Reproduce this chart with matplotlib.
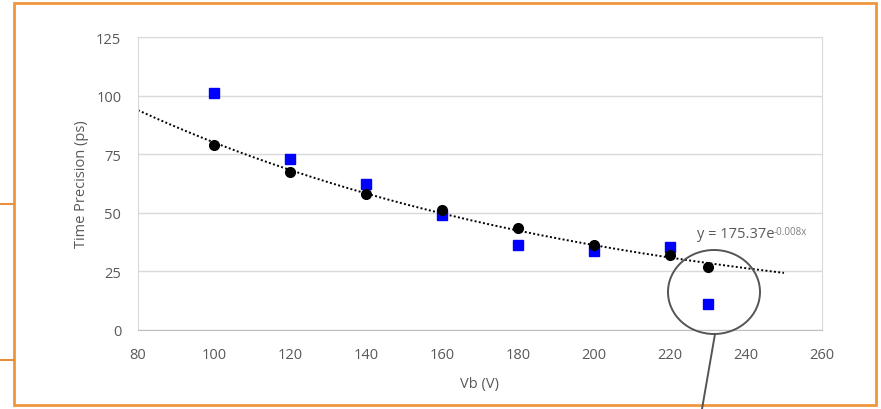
import numpy as np
import matplotlib.pyplot as plt
from matplotlib.patches import Ellipse, Rectangle
from matplotlib.lines import Line2D

plt.rcParams['font.family'] = ['Open Sans', 'DejaVu Sans']

# data
vb = [100, 120, 140, 160, 180, 200, 220, 230]
prec_black = [78.9, 67.4, 58.0, 51.2, 43.5, 36.3, 32.0, 26.9]
prec_blue = [101.1, 73.0, 62.3, 49.0, 36.3, 33.7, 35.4, 11.1]
fit_base = 'y = 175.37e'
fit_exp = '-0.008x'

fig = plt.figure(figsize=(8.81, 4.10), dpi=100)
ax = fig.add_axes([138 / 881, 1 - 331 / 410, 684 / 881, 293 / 410])

# exponential trend line fitted to the black points
b, a = np.polyfit(vb, np.log(prec_black), 1)
xs = np.linspace(80, 250, 200)
ax.plot(xs, np.exp(a) * np.exp(b * xs), color='black', ls=(0, (1, 1.2)), lw=1.4, zorder=2)

ax.plot(vb, prec_blue, 's', color='#0000ff', ms=7, zorder=3)
ax.plot(vb, prec_black, 'o', color='black', ms=7, zorder=4)

ax.set_xlim(80, 260)
ax.set_ylim(0, 125)
ax.set_xticks(np.arange(80, 261, 20))
ax.set_yticks(np.arange(0, 126, 25))
ax.grid(axis='y', color='#d9d9d9', lw=1)
ax.set_axisbelow(True)
for s in ax.spines.values():
    s.set_color('#d9d9d9')
ax.spines['bottom'].set_color('#bfbfbf')
ax.tick_params(length=0, labelsize=10.5, colors='#595959')
ax.tick_params(axis='x', pad=12)
ax.tick_params(axis='y', pad=12)
ax.set_xlabel('Vb (V)', fontsize=10.5, color='#595959', labelpad=10)
ax.set_ylabel('Time Precision (ps)', fontsize=10.5, color='#595959', labelpad=5)

t = ax.text(227, 41, fit_base, fontsize=10.5, color='#595959', va='center')
fig.canvas.draw()
bb = t.get_window_extent()
fig.text(bb.x1 / fig.bbox.width, (bb.y1 - 5) / fig.bbox.height, fit_exp,
         fontsize=7, color='#7f7f7f', va='center')

# annotation circle and pointer line (figure pixels)
fig.add_artist(Ellipse((714 / 881, 1 - 293 / 410), 92 / 881, 84 / 410,
                       transform=fig.transFigure, fill=False, ec='#555555', lw=1.4))
fig.add_artist(Line2D([715 / 881, 702 / 881], [1 - 335 / 410, 0],
                      transform=fig.transFigure, color='#555555', lw=1.4))

# orange frame and side lines
fig.add_artist(Rectangle((14 / 881, 4 / 410), 862 / 881, 402 / 410,
                         transform=fig.transFigure, fill=False, ec='#f0963c', lw=2))
for yy in [205, 361]:
    fig.add_artist(Line2D([0, 14 / 881], [1 - yy / 410] * 2,
                          transform=fig.transFigure, color='#e8913a', lw=1.5))

fig.savefig('out.png', dpi=100)
